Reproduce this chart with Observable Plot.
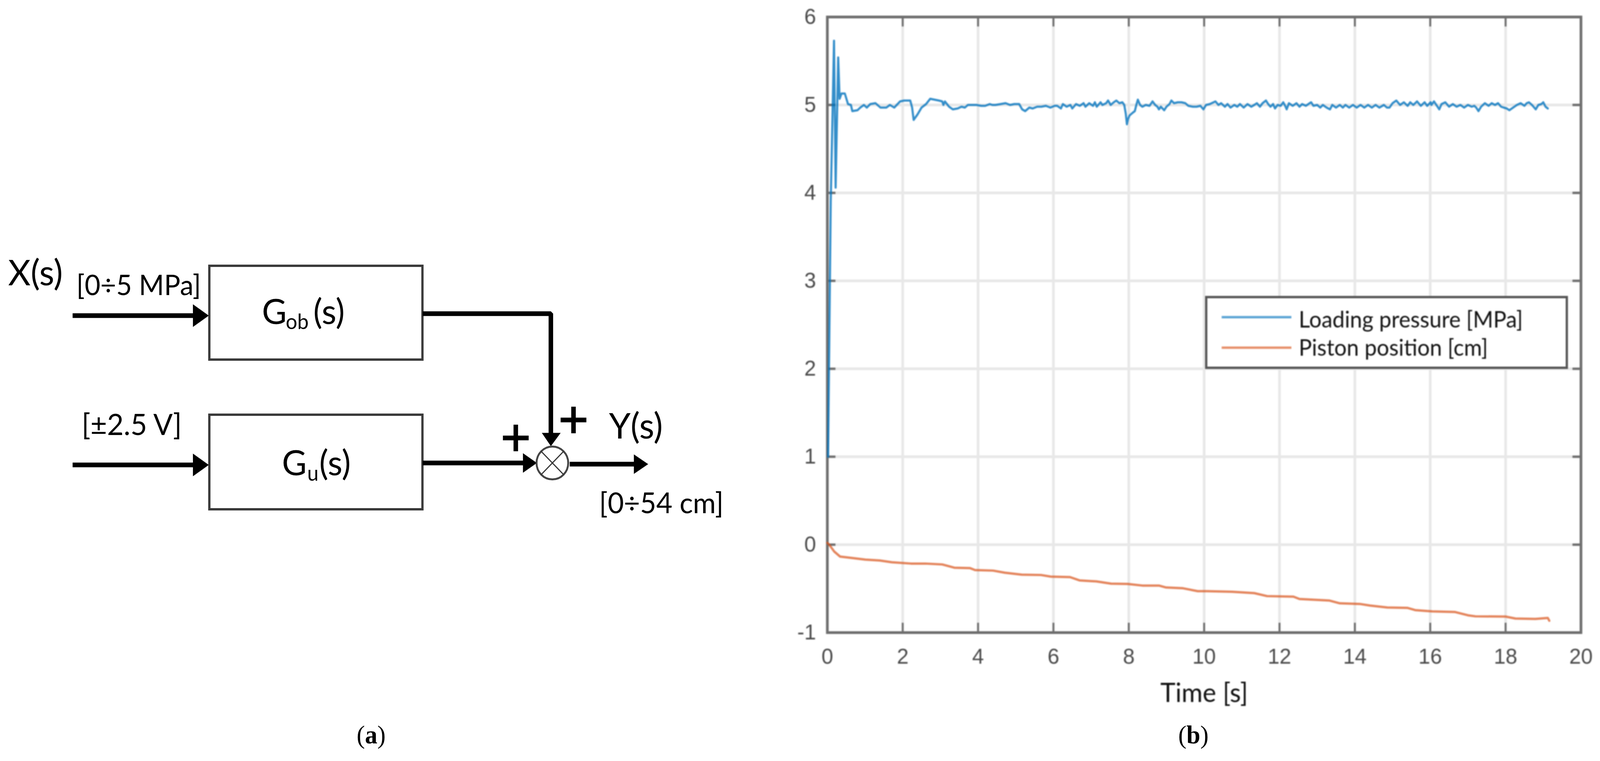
<!DOCTYPE html>
<html><head><meta charset="utf-8">
<script src="https://cdn.jsdelivr.net/npm/d3@7"></script>
<script src="https://cdn.jsdelivr.net/npm/@observablehq/plot@0.6"></script>
<style>
html,body{margin:0;padding:0;background:#fff;overflow:hidden}
#page{position:absolute;left:0;top:0;width:4242px;height:1947px;transform-origin:0 0}
#a,#b{position:absolute;top:0;height:1947px}
#a{left:0;width:2050px}
#b{left:2050px;width:2192px;filter:blur(1.7px)}
#a svg,#b svg{max-width:none !important;height:1947px !important;display:block}
#a svg{width:2050px !important}
#b svg{width:2192px !important}
.cap{position:absolute;top:1842px;font:66px "Liberation Serif",serif;color:#000;transform:translateX(-50%)}
</style></head><body>
<div id="page">
<div id="a"></div><div id="b"></div>
<div class="cap" style="left:984px">(<b>a</b>)</div>
<div class="cap" style="left:3164px">(<b>b</b>)</div>
</div>
<script>
// The window may be narrower than the 4242px design: fit the whole page to it.
document.getElementById("page").style.transform = `scaleX(${window.innerWidth/4242})`;

// ---- panel (b): measured series ----
const pressureT = [0.02,0.09,0.177,0.22,0.288,0.326,0.376,0.464,0.548,0.625,0.663,0.8,0.874,0.97,1.047,1.14,1.277,1.41,1.565,1.66,1.775,1.93,2.04,2.2,2.25,2.29,2.39,2.5,2.62,2.73,2.96,3.05,3.08,3.12,3.23,3.33,3.46,3.56,3.65,3.73,3.85,3.96,4.08,4.19,4.31,4.38,4.46,4.6,4.73,4.85,4.96,5.09,5.17,5.25,5.36,5.45,5.57,5.68,5.8,5.92,6.03,
6.1,6.2,6.25,6.35,6.45,6.5,6.6,6.7,6.8,6.85,6.95,7.05,7.1,7.15,7.25,7.3,7.4,7.45,7.52,7.6,7.67,7.75,7.83,7.88,7.92,7.95,7.98,8.02,8.1,8.16,8.2,8.24,8.3,8.36,8.45,8.55,8.63,8.7,8.76,8.8,8.85,8.94,9.0,9.08,9.13,9.2,9.3,9.4,9.5,9.58,9.7,9.8,9.9,9.98,10.05,10.15,10.25,10.3,10.38,10.45,10.55,10.62,10.7,10.8,10.88,10.95,11.05,11.15,11.25,11.33,11.4,11.48,11.55,11.64,11.7,11.76,11.83,11.88,11.95,12.03,12.1,12.15,12.19,12.25,12.35,12.45,12.53,12.6,12.7,12.8,12.84,12.9,13.0,13.08,13.15,13.25,13.34,13.4,13.5,13.6,13.68,13.75,13.85,13.95,14.05,14.15,14.25,14.35,14.45,14.55,14.65,14.77,14.85,14.92,15.0,15.1,15.2,15.3,15.4,15.47,15.55,15.65,15.75,15.85,15.92,16.01,16.03,16.1,16.24,16.3,16.4,16.5,16.6,16.7,16.8,16.9,17.0,17.1,17.17,17.22,17.28,17.35,17.45,17.55,17.63,17.72,17.8,17.88,17.95,18.03,18.1,18.2,18.3,18.4,18.5,18.56,18.62,18.7,18.8,18.87,18.95,19.0,19.06,19.12];
const pressureV = [1.0,3.9,5.73,4.06,5.54,5.07,5.13,5.13,5.01,5.0,4.93,4.94,4.97,5.0,4.97,5.01,5.02,4.97,4.97,5.0,4.97,5.04,5.05,5.05,4.97,4.83,4.89,4.97,5.01,5.07,5.05,5.04,5.0,5.04,4.98,4.95,4.96,4.98,4.97,5.0,5.0,5.0,4.99,4.99,5.01,5.0,5.0,5.01,5.02,5.0,5.01,5.01,4.95,4.93,4.97,4.96,4.98,4.98,4.99,4.97,4.99,
4.99,4.96,5.01,4.98,5.0,4.96,5.01,4.99,5.02,4.98,5.02,4.99,5.03,4.98,5.03,5.0,5.02,5.05,5.0,5.03,5.05,5.02,5.03,5.0,4.9,4.78,4.84,4.88,4.91,4.93,5.0,5.06,5.0,4.98,5.0,4.99,5.04,5.0,4.98,4.95,4.98,4.94,4.98,5.01,5.05,5.02,5.03,5.03,5.02,4.99,4.98,4.98,4.99,4.95,5.0,5.01,5.03,5.04,5.0,5.02,4.98,5.01,4.97,5.0,4.98,5.01,4.97,5.01,4.98,5.0,5.02,4.98,5.02,5.05,5.01,4.98,5.01,4.96,5.0,4.99,5.03,4.99,4.95,5.02,4.99,5.02,4.98,5.01,4.99,5.02,5.03,4.99,5.0,4.97,5.0,4.97,4.95,5.0,4.97,5.0,4.97,5.0,4.97,5.0,4.97,5.0,4.97,5.0,4.97,5.0,4.97,5.0,4.97,4.97,5.02,5.05,5.0,5.03,4.99,5.03,5.0,5.04,4.99,5.03,4.99,5.03,5.0,5.04,4.95,5.01,5.03,4.98,5.01,4.98,5.0,4.97,5.0,4.98,4.99,4.97,4.93,4.98,5.02,4.99,5.02,5.0,5.02,4.98,4.97,4.96,4.94,4.97,5.0,5.02,4.99,5.02,5.03,5.0,4.95,5.0,5.01,5.03,4.98,4.96,5.0,5.0];
const positionT = [0,0.05,0.18,0.34,0.625,1.01,1.39,1.71,2.22,2.6,3.05,3.37,3.79,3.92,4.4,4.71,5.16,5.67,5.93,6.44,6.7,7.14,7.53,7.97,8.36,8.8,8.99,9.44,9.83,10.07,10.74,11.33,11.67,12.37,12.53,13.33,13.6,14.13,14.4,14.86,15.4,15.6,16.06,16.66,17.0,17.2,18.0,18.26,18.79,19.12,19.16];
const positionV = [0.02,0.0,-0.077,-0.136,-0.15,-0.17,-0.18,-0.2,-0.215,-0.215,-0.225,-0.262,-0.267,-0.289,-0.295,-0.319,-0.341,-0.345,-0.363,-0.369,-0.407,-0.418,-0.443,-0.447,-0.465,-0.465,-0.487,-0.496,-0.529,-0.529,-0.536,-0.551,-0.585,-0.591,-0.618,-0.636,-0.667,-0.674,-0.692,-0.714,-0.719,-0.744,-0.759,-0.766,-0.803,-0.815,-0.818,-0.84,-0.844,-0.833,-0.865];
const xTicks = [0,2,4,6,8,10,12,14,16,18,20];
const yTicks = [-1,0,1,2,3,4,5,6];
const seriesNames = ["Loading pressure [MPa]","Piston position [cm]"];
const seriesColors = ["#0072BD","#D95319"];
const xLabel = "Time [s]";

// ---- panel (a): block diagram, in diagram units ----
const blocks = [{x1:555,x2:1120,y1:680,y2:920},{x1:555,x2:1120,y1:1061,y2:1303}];
const wires = [
  {id:"x",x:192,y:807},{id:"x",x:520,y:807},
  {id:"u",x:192,y:1189},{id:"u",x:520,y:1189},
  {id:"ob",x:1120,y:802},{id:"ob",x:1460,y:802},{id:"ob",x:1460,y:1115},
  {id:"gu",x:1120,y:1184},{id:"gu",x:1395,y:1184},
  {id:"out",x:1510,y:1187},{id:"out",x:1690,y:1187}
];
const heads = [
  {id:"a",x:511,y:778},{id:"a",x:553,y:807},{id:"a",x:511,y:836},
  {id:"b",x:511,y:1160},{id:"b",x:553,y:1189},{id:"b",x:511,y:1218},
  {id:"c",x:1436,y:1107},{id:"c",x:1460,y:1141},{id:"c",x:1486,y:1107},
  {id:"d",x:1386,y:1159},{id:"d",x:1423,y:1184},{id:"d",x:1386,y:1209},
  {id:"e",x:1680,y:1162},{id:"e",x:1718,y:1187},{id:"e",x:1680,y:1212}
];
const junction = [{x:1464,y:1184}];
const crossing = [{x1:1434,y1:1154,x2:1494,y2:1214},{x1:1494,y1:1154,x2:1434,y2:1214}];
const pluses = [{x:1367,y:1120},{x:1520,y:1074}];
const labels = [
  {t:"X(s)",x:21,y:729,s:92},
  {t:"[0÷5 MPa]",x:202,y:754,s:72},
  {t:"[±2.5 V]",x:216,y:1112,s:76},
  {t:"Y(s)",x:1614,y:1121,s:92},
  {t:"[0÷54 cm]",x:1588,y:1312,s:74},
  {t:"G",x:694,y:828,s:90},{t:"ob",x:757,y:841,s:54},{t:"(s)",x:830,y:828,s:90},
  {t:"G",x:747,y:1215,s:90},{t:"u",x:814,y:1229,s:54},{t:"(s)",x:846,y:1215,s:90}
];

const sans = "Lato, 'Noto Sans', sans-serif";
const panelA = Plot.plot({
  width:2050,height:1947,margin:0,
  x:{domain:[0,2050],axis:null},y:{domain:[1947,0],axis:null},
  style:{background:"transparent"},
  marks:[
    Plot.rect(blocks,{x1:"x1",x2:"x2",y1:"y1",y2:"y2",fill:"none",stroke:"#3a3a3a",strokeWidth:6}),
    Plot.line(wires,{x:"x",y:"y",z:"id",stroke:"#000",strokeWidth:12,strokeLinejoin:"miter",strokeLinecap:"butt"}),
    Plot.line(heads,{x:"x",y:"y",z:"id",fill:"#000",stroke:"none"}),
    Plot.dot(junction,{x:"x",y:"y",r:42,stroke:"#444",strokeWidth:5,fill:"#fff"}),
    Plot.link(crossing,{x1:"x1",y1:"y1",x2:"x2",y2:"y2",stroke:"#333",strokeWidth:3}),
    Plot.dot(pluses,{x:"x",y:"y",symbol:"plus",r:22,stroke:"#000",strokeWidth:12,fill:"none"}),
    ...labels.map(l=>Plot.text([l],{x:"x",y:"y",text:"t",textAnchor:"start",lineAnchor:"bottom",fontSize:l.s,fontFamily:sans,fill:"#000"}))
  ]
});
document.getElementById("a").append(panelA);

const pressure = pressureT.map((t,i)=>({t,v:pressureV[i]}));
const position = positionT.map((t,i)=>({t,v:positionV[i]}));
const gray="#6e6e6e";
const legendBox={x1:10.06,x2:19.63,y1:2.009,y2:2.813};
const legendRows=[{n:seriesNames[0],c:seriesColors[0],y:2.587,ty:2.47},{n:seriesNames[1],c:seriesColors[1],y:2.24,ty:2.151}];
const panelB = Plot.plot({
  width:2192,height:1947,
  marginLeft:143,marginRight:51,marginTop:43,marginBottom:329,
  x:{domain:[0,20]},y:{domain:[-1,6]},
  style:{background:"transparent"},
  marks:[
    Plot.ruleX(xTicks,{stroke:"#e8e8e8",strokeWidth:7}),
    Plot.ruleY(yTicks,{stroke:"#e8e8e8",strokeWidth:7}),
    Plot.ruleX(xTicks,{y1:-1,y2:-0.89,stroke:gray,strokeWidth:5}),
    Plot.ruleX(xTicks,{y1:5.89,y2:6,stroke:gray,strokeWidth:5}),
    Plot.ruleY(yTicks,{x1:0,x2:0.22,stroke:gray,strokeWidth:6}),
    Plot.ruleY(yTicks,{x1:19.78,x2:20,stroke:gray,strokeWidth:6}),
    Plot.frame({stroke:gray,strokeWidth:7}),
    Plot.line(pressure,{x:"t",y:"v",stroke:seriesColors[0],strokeWidth:5.5,strokeOpacity:0.8}),
    Plot.line(position,{x:"t",y:"v",stroke:seriesColors[1],strokeWidth:6,strokeOpacity:0.7}),
    Plot.axisX({ticks:xTicks,tickSize:0,tickPadding:40,label:null,fontSize:56,fontFamily:"'Liberation Sans',sans-serif",fill:"#4a4a4a"}),
    Plot.axisY({ticks:yTicks,tickSize:0,tickPadding:30,label:null,tickFormat:d=>String(d),fontSize:56,fontFamily:"'Liberation Sans',sans-serif",fill:"#4a4a4a"}),
    Plot.text([xLabel],{x:()=>10,y:()=>-1,text:d=>d,dy:177,lineAnchor:"bottom",fontSize:68,fontFamily:sans,fill:"#111"}),
    Plot.rect([legendBox],{x1:"x1",x2:"x2",y1:"y1",y2:"y2",fill:"#fff",stroke:"#555",strokeWidth:6}),
    Plot.ruleY(legendRows,{y:"y",x1:10.47,x2:12.32,stroke:"c",strokeWidth:6,strokeOpacity:0.65}),
    Plot.text(legendRows,{x:()=>12.51,y:"ty",text:"n",textAnchor:"start",lineAnchor:"bottom",fontSize:58,fontFamily:sans,fill:"#111"})
  ]
});
document.getElementById("b").append(panelB);
</script>
</body></html>
